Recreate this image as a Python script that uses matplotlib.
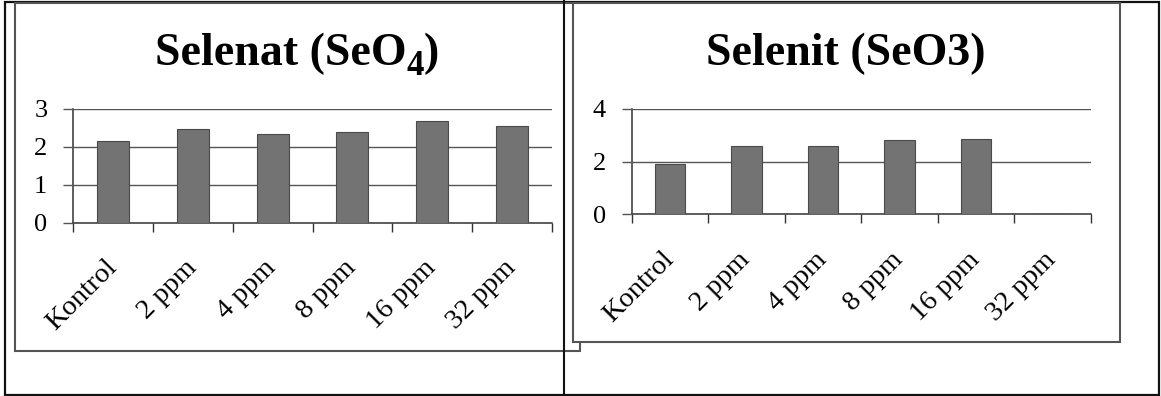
import numpy as np
import matplotlib
matplotlib.use("Agg")
import matplotlib.pyplot as plt
from matplotlib.patches import Rectangle
from matplotlib.lines import Line2D
from matplotlib.transforms import ScaledTranslation

# ---- data ----
categories = ["Kontrol", "2 ppm", "4 ppm", "8 ppm", "16 ppm", "32 ppm"]
selenat_values = [2.15, 2.47, 2.33, 2.39, 2.68, 2.54]
selenit_values = [1.89, 2.59, 2.59, 2.80, 2.85, 0.0]
selenat_ticks = [0, 1, 2, 3]
selenit_ticks = [0, 2, 4]
selenat_title = ("Selenat (SeO", "4", ")")
selenit_title = ("Selenit (SeO3)", "", "")

W, H, DPI = 1161, 396, 100
plt.rcParams["font.family"] = ["Liberation Serif", "DejaVu Serif"]

fig = plt.figure(figsize=(W / DPI, H / DPI), dpi=DPI)
fig.patch.set_facecolor("white")


def fx(x):
    return x / W


def fy(y):
    return 1 - y / H


def frame(x0, y0, x1, y1, color, lw, fill=None, z=0):
    r = Rectangle((fx(x0), fy(y1)), fx(x1) - fx(x0), fy(y0) - fy(y1),
                  transform=fig.transFigure, facecolor=fill or "none",
                  edgecolor=color, linewidth=lw, zorder=z)
    fig.add_artist(r)


def vline(x, y0, y1, color, lw, z=3):
    fig.add_artist(Line2D([fx(x), fx(x)], [fy(y0), fy(y1)],
                          transform=fig.transFigure, color=color,
                          linewidth=lw, zorder=z))


GRID = "#555555"
BAR = "#737373"


def bar_panel(rect, values, yticks, ymax):
    ax = fig.add_axes(rect)
    ax.set_zorder(5)
    ax.set_facecolor("none")
    x = np.arange(len(categories))
    ax.bar(x, values, width=0.4, color=BAR, edgecolor="#4a4a4a",
           linewidth=0.8, zorder=3)
    ax.set_xlim(-0.5, len(categories) - 0.5)
    ax.set_ylim(0, ymax)
    ax.set_yticks(yticks)
    ax.set_yticklabels([str(t) for t in yticks], fontsize=19)
    ax.yaxis.grid(True, color=GRID, linewidth=1.0, zorder=1)
    ax.tick_params(axis="y", length=7.2, width=1.0, color=GRID, pad=11.5)
    # category boundaries carry the tick marks, centres carry the labels
    ax.set_xticks(np.arange(-0.5, len(categories)), labels=[""] * (len(categories) + 1))
    ax.tick_params(axis="x", which="major", length=6.5, width=1.0,
                   color="#333333", direction="out")
    ax.set_xticks(x, minor=True)
    ax.set_xticklabels(categories, minor=True, fontsize=20.5)
    ax.tick_params(axis="x", which="minor", length=0, pad=23.5)
    shift = ScaledTranslation(-9 / DPI, 0, fig.dpi_scale_trans)
    for lab in ax.get_xticklabels(minor=True):
        lab.set_rotation(45)
        lab.set_ha("right")
        lab.set_va("top")
        lab.set_rotation_mode("anchor")
        lab.set_transform(lab.get_transform() + shift)
    for s in ("top", "right"):
        ax.spines[s].set_visible(False)
    ax.spines["left"].set_color("#333333")
    ax.spines["left"].set_linewidth(1.1)
    ax.spines["bottom"].set_color("#333333")
    ax.spines["bottom"].set_linewidth(1.1)
    ax.set_axisbelow(False)
    return ax


def title(parts, cx, base_y, size=33, sub_size=25, sub_drop=10):
    """Bold title with an optional subscript, centred on cx (pixels)."""
    main, sub, tail = parts
    renderer = fig.canvas.get_renderer()
    pieces = [(main, size, 0), (sub, sub_size, sub_drop), (tail, size, 0)]
    texts = []
    for s, fs, drop in pieces:
        if not s:
            continue
        t = fig.text(0, fy(base_y + drop), s, ha="left", va="baseline",
                     fontsize=fs, fontweight="bold", zorder=6)
        texts.append(t)
    widths = [t.get_window_extent(renderer).width for t in texts]
    x = cx - sum(widths) / 2
    for t, w in zip(texts, widths):
        t.set_x(fx(x))
        x += w


# table outline
frame(5, 1.5, 1159, 395, "#111111", 1.6, z=0)

# chart frames: the right one sits on top of the left one
frame(15, 2.5, 580, 350.5, "#555555", 1.5, fill="white", z=1)
frame(573, 2.5, 1120, 341.5, "#555555", 1.5, fill="white", z=2)
# cell divider
vline(564, 1, 395, "#111111", 1.5, z=1.5)

# plot areas
ax1 = bar_panel([fx(73.3), fy(222.7), fx(551.7) - fx(73.3), fy(108.7) - fy(222.7)],
                selenat_values, selenat_ticks, 3)
ax2 = bar_panel([fx(631.7), fy(214.3), fx(1090.7) - fx(631.7), fy(108.7) - fy(214.3)],
                selenit_values, selenit_ticks, 4)

# titles
title(selenat_title, 297, 65)
title(selenit_title, 846, 65)

fig.savefig("out.png", dpi=DPI, facecolor="white")
